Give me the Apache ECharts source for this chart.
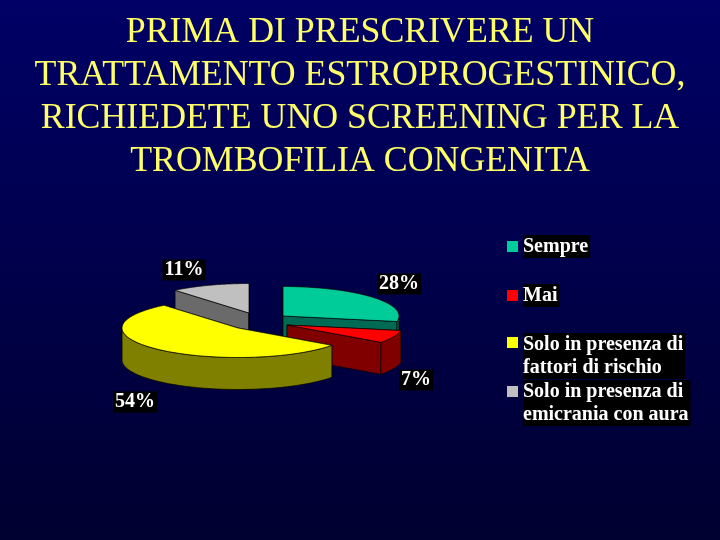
<!DOCTYPE html>
<html><head><meta charset="utf-8">
<style>html,body{margin:0;padding:0;background:#000040}#c{width:720px;height:540px}</style>
<script src="https://cdn.jsdelivr.net/npm/echarts@6/dist/echarts.min.js"></script>
</head><body><div id="c"></div>
<script>
const titleText = "PRIMA DI PRESCRIVERE UN\nTRATTAMENTO ESTROPROGESTINICO,\nRICHIEDETE UNO SCREENING PER LA\nTROMBOFILIA CONGENITA";
const categories = ["Sempre", "Mai", "Solo in presenza di\nfattori di rischio", "Solo in presenza di\nemicrania con aura"];
const values = [28, 7, 54, 11];
const topColors = ["#00cc99", "#ff0000", "#ffff00", "#c0c0c0"];
const sideColors = ["#006b55", "#800000", "#808000", "#6a6a6a"];
const apexes = [[283,316],[287,325],[238,328],[249,313]];
const labelPos = [[399,284],[416,380],[135,402],[184,270]];
const legendTops = [235,284,333,380];
const legendHeights = [11,11,46,46];
const legendIcons = ['rect','rect',
  'path://M0 0h.01v.01h-.01ZM0 4H11V15H0ZM0 46h.01v.01h-.01Z',
  'path://M0 0h.01v.01h-.01ZM0 6H11V17H0ZM0 46h.01v.01h-.01Z'];
const drawOrder = [3,0,1,2];
const RX = 116, RY = 29.5, DEPTH = 32;
const total = values.reduce((a,b)=>a+b,0);
function startFrac(i){let s=0;for(let k=0;k<i;k++)s+=values[k];return s/total;}
function pt(ap,th,d){return [ap[0]+RX*Math.sin(th), ap[1]-RY*Math.cos(th)+(d||0)];}
function makeRender(i){
  return function(params, api){
    const v = api.value(0);
    const a0 = startFrac(i)*2*Math.PI, a1 = a0 + v/total*2*Math.PI;
    const ap = apexes[i], n = 60;
    const arc=[]; for(let k=0;k<=n;k++) arc.push(a0+(a1-a0)*k/n);
    const rim = arc.map(t=>pt(ap,t));
    const stroke = {stroke:"#000",lineWidth:0.7};
    const side = Object.assign({fill:sideColors[i]},stroke);
    const kids=[];
    const quad=(t)=>({type:'polygon',shape:{points:[ap,pt(ap,t),pt(ap,t,DEPTH),[ap[0],ap[1]+DEPTH]]},style:side});
    kids.push(quad(a0)); kids.push(quad(a1));
    const front = arc.filter(t=>t>=Math.PI/2 && t<=Math.PI*1.5);
    if(front.length>1){
      const up=front.map(t=>pt(ap,t)), dn=front.map(t=>pt(ap,t,DEPTH)).reverse();
      kids.push({type:'polygon',shape:{points:up.concat(dn)},style:side});
    }
    kids.push({type:'polygon',shape:{points:[ap].concat(rim)},style:Object.assign({fill:topColors[i]},stroke)});
    kids.push({type:'text',style:{text:v+"%",x:labelPos[i][0],y:labelPos[i][1],align:'center',verticalAlign:'middle',
      fill:"#fff",font:"bold 20px 'Liberation Serif'",backgroundColor:"#000",padding:[1,2,0,2]},z2:10});
    return {type:'group',children:kids};
  };
}
const series = drawOrder.map(i=>({
  type:'custom',name:categories[i],coordinateSystem:'none',data:[[values[i]]],
  itemStyle:{color:topColors[i]},renderItem:makeRender(i),silent:true,animation:false
}));
const legends = categories.map((c,i)=>({
  data:[c],left:507,top:legendTops[i],orient:'vertical',padding:0,itemWidth:11,itemHeight:legendHeights[i],itemGap:0,
  icon:legendIcons[i],selectedMode:false,
  textStyle:{color:"#fff",fontFamily:"Liberation Serif",fontWeight:"bold",fontSize:20,lineHeight:23,backgroundColor:"#000",padding:[0,2,0,0]}
}));
const chart = echarts.init(document.getElementById('c'),null,{renderer:'canvas'});
chart.setOption({
  animation:false,
  backgroundColor:{type:'linear',x:0,y:0,x2:0,y2:1,colorStops:[{offset:0,color:"#000066"},{offset:1,color:"#000030"}]},
  title:{text:titleText,left:355,top:6,textAlign:'center',
    textStyle:{color:"#ffff66",fontFamily:"Liberation Serif",fontWeight:"normal",fontSize:35.8,lineHeight:43}},
  legend:legends,
  series:series
});
</script></body></html>
